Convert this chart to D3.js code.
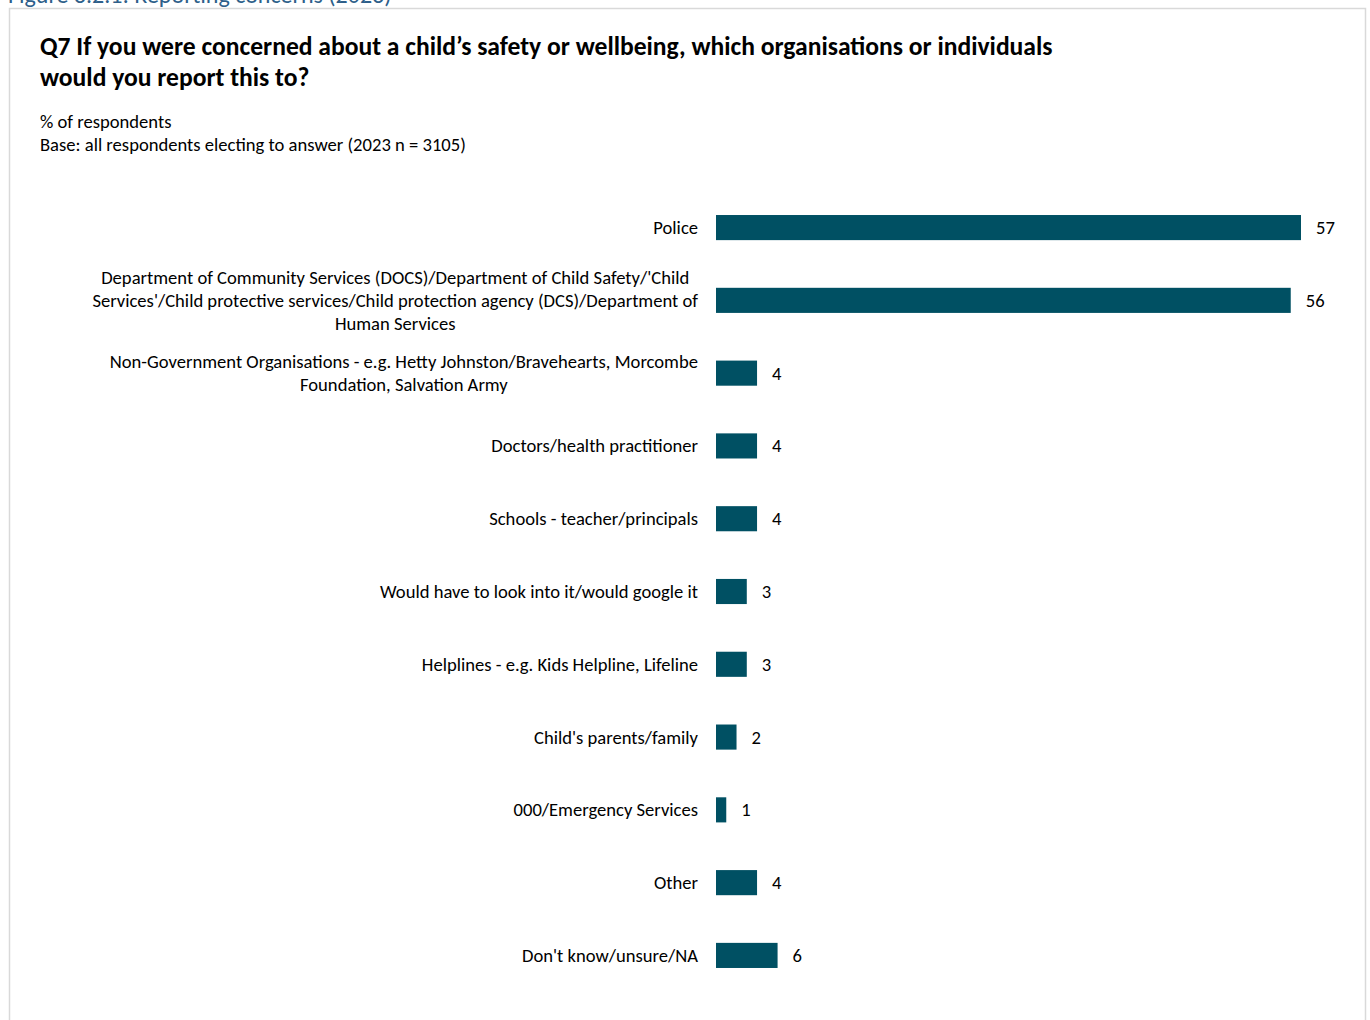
<!DOCTYPE html>
<html>
<head>
<meta charset="utf-8">
<script src="https://cdn.jsdelivr.net/npm/d3@7"></script>
<style>
  html, body { margin: 0; padding: 0; background: #fff; }
  svg { display: block; }
  text { font-family: Carlito, "Noto Sans", "Open Sans", sans-serif; fill: #000; }
</style>
</head>
<body>
<svg id="chart" width="1370" height="1020"></svg>
<script>
const categories = [
  "Police",
  "Department of Community Services (DOCS)/Department of Child Safety/'Child\nServices'/Child protective services/Child protection agency (DCS)/Department of\nHuman Services",
  "Non-Government Organisations - e.g. Hetty Johnston/Bravehearts, Morcombe\nFoundation, Salvation Army",
  "Doctors/health practitioner",
  "Schools - teacher/principals",
  "Would have to look into it/would google it",
  "Helplines - e.g. Kids Helpline, Lifeline",
  "Child's parents/family",
  "000/Emergency Services",
  "Other",
  "Don't know/unsure/NA"
];
const values = [57, 56, 4, 4, 4, 3, 3, 2, 1, 4, 6];
const figureCaption = "Figure 3.2.1: Reporting concerns (2023)";
const titleLines = [
  "Q7 If you were concerned about a child\u2019s safety or wellbeing, which organisations or individuals",
  "would you report this to?"
];
const subtitleLines = [
  "% of respondents",
  "Base: all respondents electing to answer (2023 n = 3105)"
];

const svg = d3.select("#chart");

// caption partly cut off at top (as in the reference)
svg.append("text").attr("x", 8).attr("y", 3)
  .attr("font-size", 24).style("fill", "#2e5f8a").text(figureCaption);

// frame
svg.append("rect").attr("x", 9.5).attr("y", 8.5).attr("width", 1356).attr("height", 1030)
  .attr("fill", "none").attr("stroke", "#d9d9d9").attr("stroke-width", 1.5);

// title
svg.selectAll("text.title").data(titleLines).join("text").attr("class", "title")
  .attr("x", 40).attr("y", (d, i) => 55 + i * 31)
  .attr("font-size", 25.6).attr("font-weight", "bold").text(d => d);

svg.selectAll("text.sub").data(subtitleLines).join("text").attr("class", "sub")
  .attr("x", 40).attr("y", (d, i) => 128 + i * 23)
  .attr("font-size", 18.6).text(d => d);

const x = d3.scaleLinear().domain([0, 57]).range([716, 1301]);
const y = d3.scaleBand().domain(d3.range(categories.length))
  .range([191, 992]).paddingInner(0.655).paddingOuter(0.33);

const g = svg.append("g");
g.selectAll("rect.bar").data(values).join("rect").attr("class", "bar")
  .attr("x", x(0)).attr("y", (d, i) => y(i))
  .attr("width", d => x(d) - x(0)).attr("height", y.bandwidth())
  .attr("fill", "#005063");

g.selectAll("text.val").data(values).join("text").attr("class", "val")
  .attr("x", d => x(d) + 15).attr("y", (d, i) => y(i) + y.bandwidth() / 2)
  .attr("dy", "0.35em").attr("font-size", 18.6).text(d => d);

// category labels, block right-aligned at 698, lines centred within block
const lineH = 23;
categories.forEach((c, i) => {
  const lines = c.split("\n");
  const cy = y(i) + y.bandwidth() / 2;
  const grp = g.append("g");
  const ts = grp.selectAll("text").data(lines).join("text")
    .attr("font-size", 18.6)
    .attr("y", (d, k) => cy + (k - (lines.length - 1) / 2) * lineH)
    .attr("dy", "0.35em").text(d => d);
  let maxW = 0;
  ts.each(function() { maxW = Math.max(maxW, this.getComputedTextLength()); });
  ts.attr("text-anchor", "middle").attr("x", 698 - maxW / 2);
});
</script>
</body>
</html>
